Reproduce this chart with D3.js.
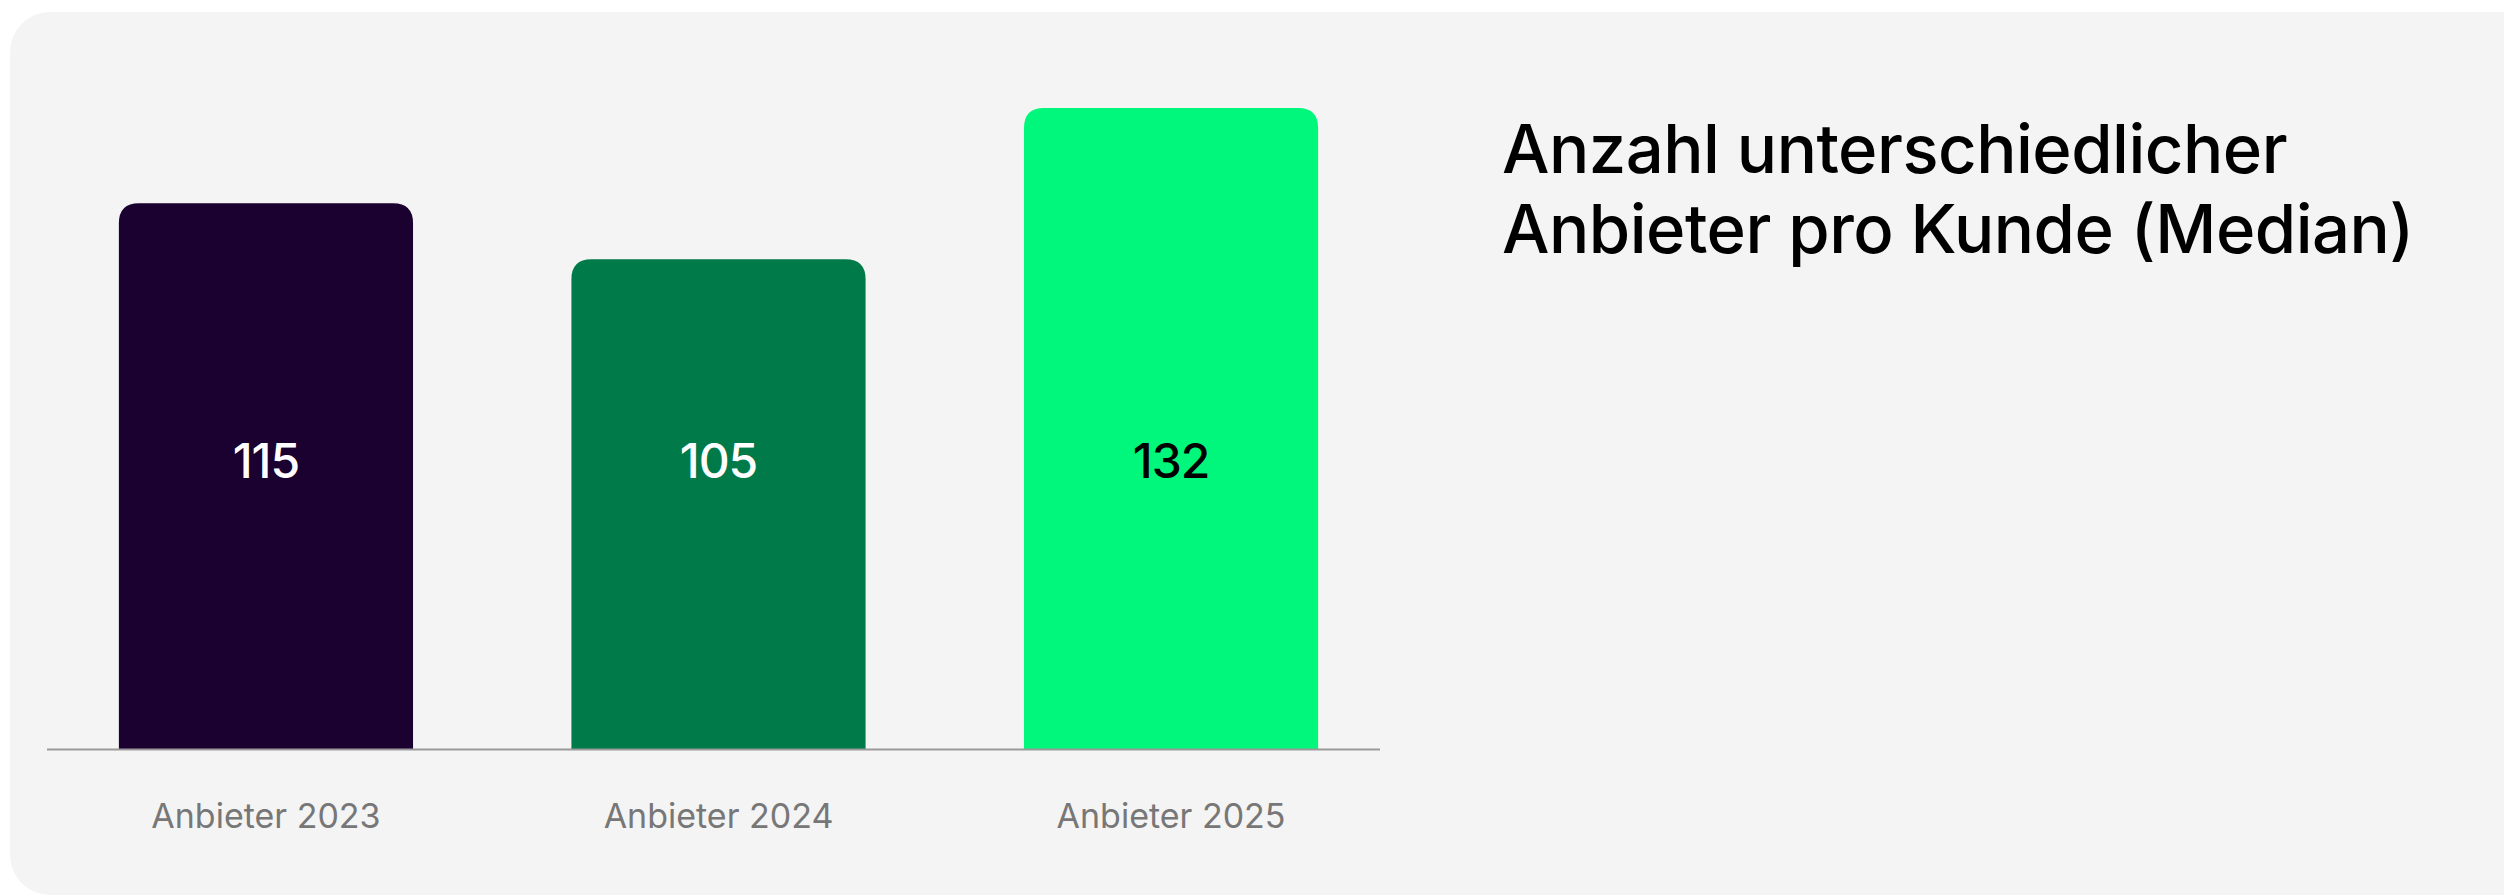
<!DOCTYPE html>
<html>
<head>
<meta charset="utf-8">
<script src="https://cdn.jsdelivr.net/npm/d3@7"></script>
<style>
  html, body { margin: 0; padding: 0; background: #fff; }
  svg { display: block; font-family: Inter, "Noto Sans", sans-serif; }
</style>
</head>
<body>
<div id="chart"></div>
<script>
// data
const categories = ['Anbieter 2023', 'Anbieter 2024', 'Anbieter 2025'];
const values = [115, 105, 132];
const barColors = ['#1b0130', '#007a49', '#00f77b'];
const labelColors = ['#ffffff', '#ffffff', '#000000'];
const titleLines = ['Anzahl unterschiedlicher', 'Anbieter pro Kunde (Median)'];

const W = 2504, H = 896;

const svg = d3.select('#chart')
  .append('svg')
  .attr('width', W)
  .attr('height', H);

// grey card
svg.append('rect')
  .attr('x', 10)
  .attr('y', 12)
  .attr('width', W + 40)
  .attr('height', H - 13)
  .attr('rx', 40)
  .attr('fill', '#f4f4f4');

const baseY = 749;

const x = d3.scaleBand()
  .domain(categories)
  .range([51, 1386])
  .paddingInner(0.35)
  .paddingOuter(0.15);

// bars don't start at zero in the original
const y = d3.scaleLinear()
  .domain([17.5, 132])
  .range([baseY, 108]);

const r = 20;
function topRounded(x0, y0, w, h) {
  return `M${x0},${y0 + h}V${y0 + r}Q${x0},${y0} ${x0 + r},${y0}` +
    `H${x0 + w - r}Q${x0 + w},${y0} ${x0 + w},${y0 + r}V${y0 + h}Z`;
}

const g = svg.append('g');

g.selectAll('path.bar')
  .data(values)
  .enter().append('path')
  .attr('class', 'bar')
  .attr('fill', (d, i) => barColors[i])
  .attr('d', (d, i) => topRounded(x(categories[i]), y(d), x.bandwidth(), baseY - y(d)));

// axis line
g.append('line')
  .attr('x1', 47)
  .attr('x2', 1380)
  .attr('y1', baseY + 0.5)
  .attr('y2', baseY + 0.5)
  .attr('stroke', '#9a9a9a')
  .attr('stroke-width', 2);

g.selectAll('text.val')
  .data(values)
  .enter().append('text')
  .attr('class', 'val')
  .attr('x', (d, i) => x(categories[i]) + x.bandwidth() / 2)
  .attr('y', 478)
  .attr('text-anchor', 'middle')
  .attr('font-size', 48)
  .attr('font-weight', 500)
  .attr('letter-spacing', -1)
  .attr('fill', (d, i) => labelColors[i])
  .text(d => d);

g.selectAll('text.cat')
  .data(categories)
  .enter().append('text')
  .attr('class', 'cat')
  .attr('x', d => x(d) + x.bandwidth() / 2)
  .attr('y', 828)
  .attr('text-anchor', 'middle')
  .attr('font-size', 34)
  .attr('fill', '#777')
  .text(d => d);

svg.selectAll('text.title')
  .data(titleLines)
  .enter().append('text')
  .attr('class', 'title')
  .attr('x', 1502)
  .attr('y', (d, i) => 173 + i * 80)
  .attr('font-size', 67)
  .attr('font-weight', 500)
  .attr('letter-spacing', -0.5)
  .attr('fill', '#000')
  .text(d => d);
</script>
</body>
</html>
